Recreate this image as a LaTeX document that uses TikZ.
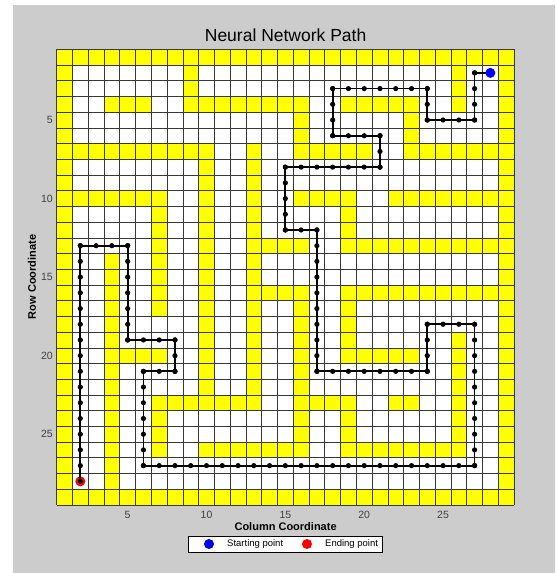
\documentclass[tikz,border=0pt]{standalone}
\usepackage{fontspec}
\setmainfont{Liberation Sans}
\usetikzlibrary{positioning}
\definecolor{wall}{HTML}{FFFF00}
\definecolor{panel}{HTML}{CCCCCC}
\definecolor{gridline}{HTML}{383838}
\definecolor{ticktext}{HTML}{404040}
\definecolor{startpt}{HTML}{0000FF}
\definecolor{endpt}{HTML}{FF0000}

\begin{document}
\begin{tikzpicture}[x=1pt,y=-1pt,
  ticklabel/.style={font=\fontsize{10.5}{12}\selectfont,text=ticktext,inner sep=1pt},
  axislabel/.style={font=\fontsize{11}{13}\selectfont\bfseries},
  route/.style={black,line width=1.8pt},
  marker/.style={circle,inner sep=0pt,minimum size=10pt}]
  \useasboundingbox (0,0) rectangle (555,573);
  \fill[panel] (13,5) rectangle (555,573);

  % Title and axis labels
  \node[font=\fontsize{17.5}{20}\selectfont] (title) at (285.6,35) {Neural Network Path};
  \node[axislabel] (xlabel) at (285.6,527) {Column Coordinate};
  \node[axislabel,rotate=90] (ylabel) at (32,277) {Row Coordinate};

  % Tick labels
  \foreach \t in {5,10,...,25} {
    \node[ticklabel] at (48.8+15.77*\t,514.5) {\t};
    \node[ticklabel,anchor=east] at (54,41.45+15.71*\t) {\t};
  }

  % Maze: cell (c,r) centred at (c,r)
  \begin{scope}[shift={(48.8pt,-41.45pt)},x=15.77pt,y=-15.71pt]
    \fill[white] (0.5,0.5) rectangle (29.5,29.5);
    \foreach \ca/\ra/\cb/\rb in {1/1/29/1, 1/29/29/29, 1/1/1/29, 29/1/29/29,
        9/2/9/4, 9/4/16/4, 4/4/6/4, 26/2/26/4, 19/4/23/4,
        16/4/16/7, 23/4/23/7, 1/7/10/7, 16/7/20/7, 23/7/29/7,
        13/7/13/23, 10/7/10/23, 1/10/7/10, 7/10/7/17,
        16/10/19/10, 19/10/19/13, 22/10/29/10,
        13/13/16/13, 19/13/29/13, 4/14/4/28,
        13/16/16/16, 19/16/29/16, 16/16/16/26, 19/16/19/20,
        4/20/7/20, 19/20/23/20, 26/19/26/26,
        7/23/13/23, 7/23/7/26, 16/23/19/23, 19/23/19/26, 22/23/23/23,
        10/26/16/26, 19/26/26/26}
      \fill[wall] (\ca-0.5,\ra-0.5) rectangle (\cb+0.5,\rb+0.5);
    \foreach \i in {0,...,29} {
      \draw[gridline,line width=0.6pt] (\i+0.5,0.5) -- (\i+0.5,29.5);
      \draw[gridline,line width=0.6pt] (0.5,\i+0.5) -- (29.5,\i+0.5);
    }

    % Path found by the network
    \node[marker,fill=endpt] (finish) at (2,28) {};
    \draw[route] (28,2) -- (27,2) -- (27,5) -- (24,5) -- (24,3) -- (18,3)
      -- (18,6) -- (21,6) -- (21,8) -- (15,8) -- (15,12) -- (17,12)
      -- (17,21) -- (24,21) -- (24,18) -- (27,18) -- (27,27) -- (6,27)
      -- (6,21) -- (8,21) -- (8,19) -- (5,19) -- (5,13) -- (2,13) -- (finish.center);
    \foreach \r/\a/\b in {2/27/28, 5/24/27, 3/18/24, 6/18/21, 8/15/21, 12/15/17,
        21/17/24, 18/24/27, 27/6/27, 21/6/8, 19/5/8, 13/2/5}
      \foreach \c in {\a,...,\b} \fill (\c,\r) circle[radius=2.6pt];
    \foreach \c/\a/\b in {27/2/5, 24/3/5, 18/3/6, 21/6/8, 15/8/12, 17/12/21,
        24/18/21, 27/18/27, 6/21/27, 8/19/21, 5/13/19, 2/13/28}
      \foreach \r in {\a,...,\b} \fill (\c,\r) circle[radius=2.6pt];
    \node[marker,fill=startpt] (start) at (28,2) {};
  \end{scope}

  % Legend
  \node[draw=black,fill=white,line width=0.5pt,minimum width=194pt,minimum height=16.5pt,inner sep=0pt] (legend) at (285,544) {};
  \node[marker,fill=startpt] (startkey) at (209,544) {};
  \node[font=\fontsize{9.5}{11}\selectfont,anchor=west,inner sep=0pt] (starttext) at (227,544) {Starting point};
  \node[marker,fill=endpt] (endkey) at (307,544) {};
  \node[font=\fontsize{9.5}{11}\selectfont,anchor=west,inner sep=0pt] (endtext) at (325,544) {Ending point};
\end{tikzpicture}
\end{document}
